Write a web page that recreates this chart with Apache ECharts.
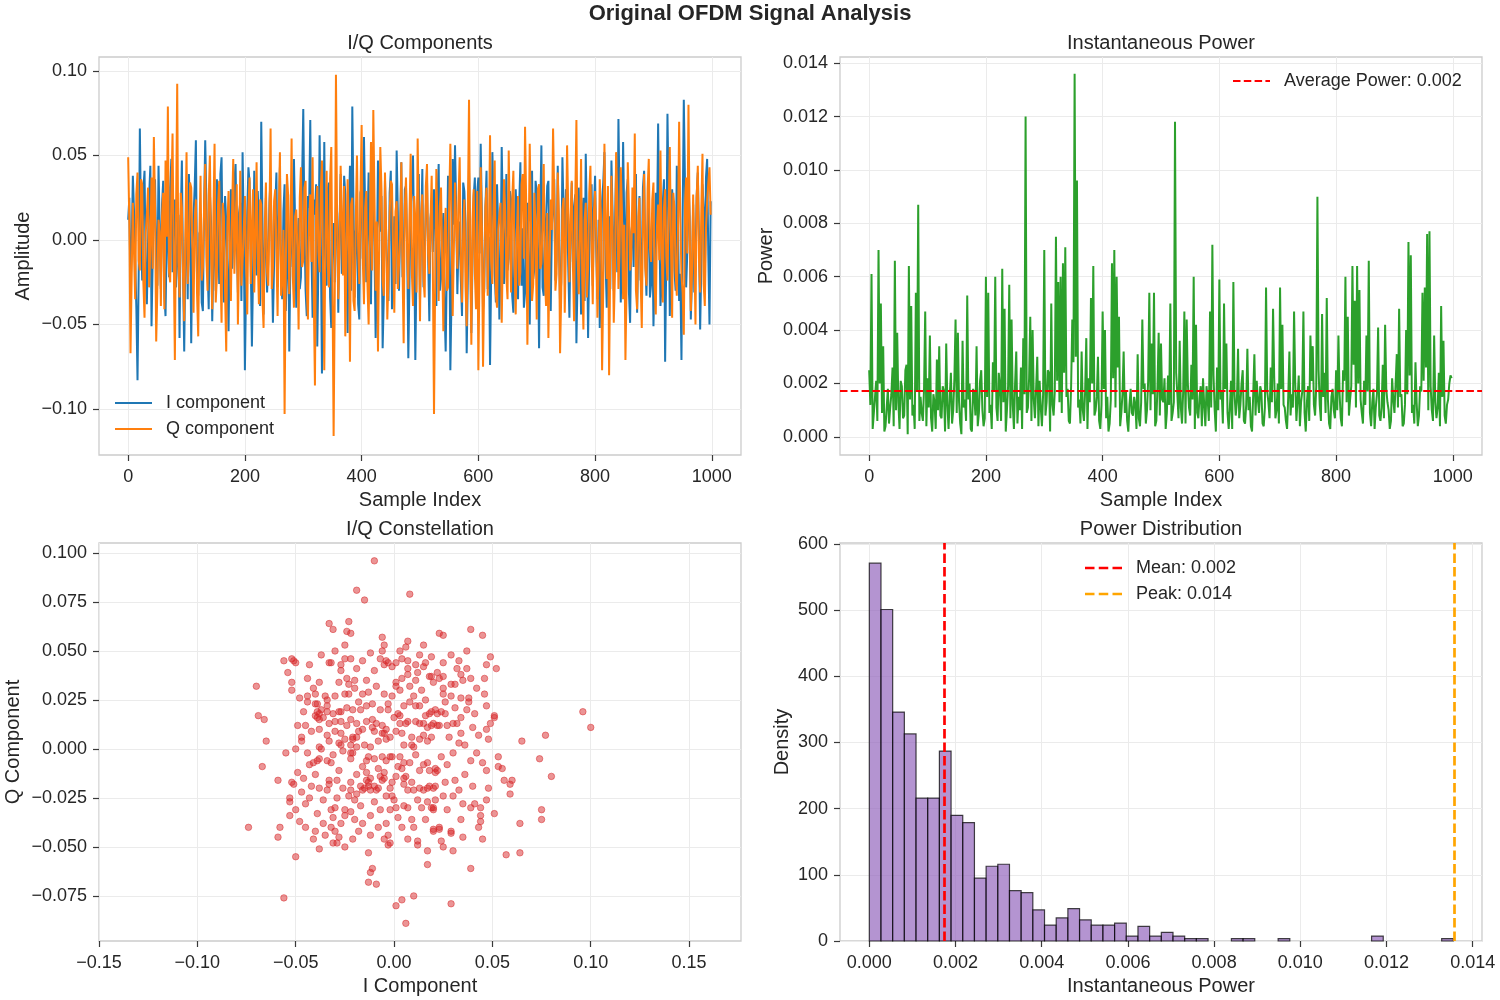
<!DOCTYPE html>
<html><head><meta charset="utf-8">
<script src="https://cdn.jsdelivr.net/npm/echarts@6/dist/echarts.min.js"></script>
<style>html,body{margin:0;padding:0;background:#fff}#c{width:1500px;height:1000px}</style>
</head><body><div id="c"></div>
<script>
// ---------------- DATA ----------------
const SAMPLE_STEP = 2; // every 2nd sample index: 0,2,...,998
const iComponent = [
0.012,0.025,-0.031,-0.004,0.038,0.017,-0.012,-0.040,-0.083,-0.020,
0.066,0.009,-0.024,0.030,0.041,-0.015,-0.038,-0.002,0.027,0.044,
-0.051,-0.011,0.018,0.036,-0.007,-0.027,0.044,0.006,-0.029,0.021,
0.035,-0.033,-0.045,0.003,0.009,-0.022,0.031,0.048,-0.019,0.013,
0.024,-0.028,-0.010,0.015,-0.058,0.011,0.047,-0.019,-0.066,-0.008,
0.021,-0.035,0.039,0.020,-0.061,-0.006,0.014,0.032,0.059,-0.024,
-0.033,0.004,0.006,-0.037,-0.042,0.018,0.059,0.023,-0.015,-0.041,
0.028,0.010,-0.048,-0.013,0.017,-0.030,0.036,0.012,-0.026,0.039,
0.049,-0.009,-0.037,0.026,0.011,-0.021,-0.054,0.005,0.030,-0.017,
-0.004,0.034,0.045,-0.001,-0.031,0.016,0.022,-0.036,0.052,0.007,
-0.077,-0.026,0.016,0.043,0.034,-0.012,-0.063,-0.018,0.041,0.003,
-0.021,0.029,0.008,-0.039,0.070,0.014,-0.044,-0.007,0.025,-0.031,
-0.013,0.022,0.037,-0.005,-0.049,-0.014,0.019,0.040,-0.028,0.009,
0.043,-0.024,-0.035,0.017,0.033,-0.042,-0.018,0.027,-0.066,-0.010,
0.029,-0.016,0.048,0.011,-0.040,-0.003,0.013,-0.029,-0.022,0.036,
0.0775,0.008,-0.030,-0.045,0.026,0.019,0.071,-0.006,-0.046,0.024,
0.015,0.033,-0.063,-0.012,0.062,0.004,-0.079,-0.021,0.058,-0.010,
-0.027,0.030,0.034,-0.034,-0.052,0.002,0.010,-0.025,0.020,0.016,
-0.043,0.007,0.039,-0.020,-0.016,0.038,0.027,-0.008,-0.055,0.015,
0.044,-0.030,0.079,0.021,-0.034,0.005,0.012,-0.038,-0.047,0.028,
0.031,-0.011,0.061,0.018,-0.025,0.009,0.040,-0.027,-0.038,0.035,
0.023,-0.004,-0.058,-0.019,0.047,0.012,0.005,0.026,-0.064,-0.033,
0.036,0.004,-0.019,-0.036,0.028,0.041,-0.041,-0.013,0.014,-0.026,
0.053,0.017,-0.030,0.008,0.046,-0.022,-0.012,0.030,0.032,-0.005,
-0.070,-0.024,0.019,0.031,0.050,-0.002,-0.071,-0.017,0.024,0.039,
-0.036,0.006,0.042,-0.028,-0.009,0.020,0.035,-0.011,-0.048,0.013,
0.021,-0.007,0.030,0.012,-0.039,0.025,0.045,-0.030,-0.023,0.003,
0.016,-0.040,-0.066,-0.015,0.038,0.022,-0.077,-0.034,0.048,0.009,
0.056,0.019,-0.032,-0.003,0.011,-0.024,-0.045,0.034,0.029,0.010,
-0.067,-0.021,0.040,0.005,-0.055,-0.012,0.026,0.037,-0.014,0.028,
0.037,-0.008,0.057,0.016,-0.041,-0.030,0.018,0.041,-0.029,0.002,
-0.074,-0.019,0.052,0.024,-0.020,-0.037,0.033,0.006,-0.047,-0.014,
0.055,0.013,-0.026,0.005,0.039,-0.018,-0.011,0.029,0.024,-0.033,
-0.043,-0.006,0.030,0.011,-0.035,0.021,0.046,-0.027,0.007,-0.040,
-0.031,0.018,0.022,-0.010,-0.050,0.008,0.041,-0.023,-0.017,0.035,
0.028,-0.004,-0.064,0.015,0.056,-0.028,-0.033,0.002,0.013,0.032,
0.035,-0.020,-0.042,0.009,0.019,0.036,-0.024,-0.012,0.044,0.001,
-0.038,-0.025,0.049,0.017,-0.008,0.030,0.027,-0.015,-0.046,0.006,
0.034,-0.013,0.020,0.027,-0.061,-0.022,0.031,0.004,-0.044,0.014,
0.025,-0.036,0.051,0.010,-0.058,-0.009,0.017,0.033,-0.027,0.019,
0.038,-0.006,-0.035,0.012,-0.052,-0.021,0.023,0.034,0.052,-0.014,
-0.040,0.003,0.014,-0.029,0.047,0.016,-0.030,0.008,0.043,-0.019,
0.0716,0.020,-0.037,-0.008,0.058,0.011,-0.021,0.028,0.036,-0.031,
-0.049,0.005,0.010,-0.016,0.032,0.039,-0.043,-0.003,0.026,-0.024,
-0.015,0.031,0.041,-0.011,-0.033,0.007,0.019,-0.034,-0.026,0.016,
-0.051,-0.018,0.028,0.004,0.069,0.013,-0.039,-0.026,0.022,0.036,
-0.072,-0.010,0.0747,0.025,-0.045,-0.004,0.030,0.015,-0.018,-0.030,
0.044,0.009,-0.036,-0.020,-0.071,0.012,0.083,0.035,-0.028,-0.007,
0.035,0.014,-0.047,-0.022,0.021,-0.031,-0.012,0.026,0.040,0.002,
-0.053,-0.015,0.033,0.019,-0.024,0.037,0.048,-0.009,-0.050,0.023
];
const qComponent = [
0.049,0.010,-0.067,-0.021,0.022,-0.008,-0.035,0.027,0.040,-0.012,
-0.018,0.036,0.033,-0.025,-0.046,0.004,0.015,0.031,-0.028,-0.003,
0.037,-0.017,0.061,0.020,-0.060,-0.030,0.012,0.005,-0.039,0.014,
0.028,-0.041,0.047,0.002,0.079,-0.019,-0.025,0.026,0.063,-0.009,
-0.071,0.016,0.0925,-0.013,-0.034,0.028,0.019,-0.022,-0.048,0.007,
0.052,-0.026,-0.011,0.034,0.031,-0.005,-0.043,0.011,0.024,-0.032,
-0.057,0.003,0.038,-0.024,-0.016,0.019,0.045,-0.011,-0.030,0.026,
0.050,-0.006,-0.041,0.013,0.057,-0.037,-0.022,0.021,0.035,-0.015,
-0.049,0.022,0.014,-0.031,-0.066,0.009,0.029,-0.004,-0.036,0.017,
0.048,-0.020,-0.020,0.033,-0.050,-0.010,0.041,-0.027,-0.013,0.006,
0.026,-0.014,-0.044,0.018,0.037,-0.026,0.009,0.030,-0.031,0.001,
0.046,-0.011,-0.038,0.024,0.021,-0.035,-0.052,0.008,0.034,-0.019,
-0.027,0.012,0.066,-0.029,-0.017,0.023,0.030,-0.008,-0.045,0.015,
0.052,-0.033,-0.023,0.006,-0.103,-0.018,0.039,0.027,-0.032,0.003,
0.060,-0.021,-0.040,0.014,0.018,-0.006,-0.053,0.025,0.043,-0.016,
-0.012,0.031,0.035,-0.028,-0.047,0.010,0.027,-0.013,0.049,-0.034,
-0.086,0.018,0.032,-0.007,-0.019,0.029,0.047,-0.020,-0.077,0.004,
0.041,-0.015,-0.028,0.036,0.055,-0.024,-0.116,-0.030,0.0978,0.012,
-0.035,-0.009,0.044,0.016,-0.021,0.032,-0.057,-0.014,0.036,0.008,
-0.072,0.021,0.025,-0.036,-0.042,0.013,0.050,-0.004,-0.026,0.027,
0.068,-0.012,-0.038,0.019,0.029,-0.027,-0.050,0.006,0.058,-0.018,
0.077,0.024,-0.030,0.011,-0.066,-0.005,0.055,0.030,-0.024,-0.033,
0.040,0.005,-0.047,-0.022,0.016,0.035,0.033,-0.010,-0.043,0.017,
0.023,-0.029,-0.015,0.002,0.046,-0.016,-0.061,0.020,0.037,-0.007,
-0.029,0.014,0.051,-0.019,-0.039,0.026,0.012,-0.031,0.060,0.009,
-0.048,0.015,0.027,-0.023,-0.034,0.032,0.045,-0.008,-0.020,0.011,
0.038,-0.016,-0.103,-0.025,0.042,0.007,-0.036,0.020,0.031,-0.011,
-0.054,0.004,0.019,-0.030,-0.028,0.023,0.057,0.013,-0.045,-0.006,
0.034,0.010,-0.017,0.025,0.049,-0.014,-0.037,0.003,0.024,-0.028,
-0.051,0.018,0.083,-0.009,-0.062,0.012,0.030,-0.020,-0.041,0.029,
-0.077,-0.018,0.043,0.008,-0.075,-0.024,0.020,0.031,-0.033,0.002,
0.062,-0.013,-0.026,0.019,0.047,-0.032,-0.040,0.006,0.015,0.022,
-0.049,-0.005,0.036,0.017,-0.022,-0.035,0.053,0.010,-0.031,0.024,
0.041,-0.015,-0.044,0.004,0.026,-0.027,-0.019,0.033,0.039,-0.011,
0.067,0.021,-0.062,-0.008,0.057,0.013,-0.036,-0.026,0.028,0.007,
-0.047,0.030,0.033,-0.017,-0.014,0.009,0.045,-0.023,-0.039,0.016,
-0.058,-0.012,0.024,0.006,0.066,0.027,-0.030,-0.020,0.040,0.014,
-0.067,-0.032,0.018,0.025,-0.043,-0.004,0.056,0.019,-0.025,0.011,
0.035,-0.015,-0.048,0.023,0.071,-0.010,-0.032,0.001,0.048,-0.024,
-0.053,0.012,0.022,-0.034,-0.016,0.028,0.044,-0.006,-0.038,0.017,
0.029,0.003,-0.046,-0.019,0.036,0.015,-0.077,-0.028,0.057,0.010,
-0.023,0.032,-0.080,-0.013,0.038,0.005,-0.049,-0.021,0.052,0.026,
-0.029,-0.007,0.043,0.018,-0.035,0.009,-0.071,-0.026,0.046,0.020,
-0.018,-0.011,0.031,0.004,0.063,-0.030,-0.041,0.014,0.025,-0.022,
-0.052,0.011,0.039,-0.016,-0.027,0.030,0.048,-0.005,-0.013,0.024,
0.034,-0.027,-0.044,0.008,0.021,-0.012,0.053,-0.003,-0.037,0.019,
0.030,-0.010,-0.024,0.016,0.055,-0.002,-0.046,0.028,0.019,-0.019,
-0.033,0.006,0.070,0.013,-0.021,-0.031,-0.056,0.021,0.037,-0.008,
0.080,0.012,-0.042,-0.020,0.027,-0.004,-0.050,0.025,0.044,-0.011,
-0.031,0.018,0.051,-0.026,-0.039,0.007,0.023,0.034,0.043,0.015
];
const instPower = [
0.0025,0.0012,0.0061,0.0003,0.0009,0.0015,0.0021,0.0006,0.0070,0.0020,
0.0050,0.0009,0.0034,0.0002,0.0004,0.0011,0.0018,0.0005,0.0011,0.0016,
0.0026,0.0004,0.0066,0.0010,0.0039,0.0013,0.0003,0.0021,0.0019,0.0007,
0.0008,0.0025,0.0027,0.0001,0.0064,0.0014,0.0049,0.0008,0.0012,0.0003,
0.0054,0.0017,0.0087,0.0006,0.0015,0.0009,0.0006,0.0018,0.0047,0.0004,
0.0022,0.0011,0.0038,0.0007,0.0002,0.0016,0.0013,0.0003,0.0029,0.0010,
0.0034,0.0008,0.0007,0.0019,0.0017,0.0002,0.0035,0.0012,0.0003,0.0015,
0.0024,0.0005,0.0010,0.0022,0.0044,0.0009,0.0039,0.0013,0.0005,0.0001,
0.0036,0.0011,0.0014,0.0006,0.0053,0.0014,0.0020,0.0003,0.0002,0.0018,
0.0016,0.0008,0.0034,0.0004,0.0009,0.0021,0.0025,0.0010,0.0004,0.0007,
0.0060,0.0015,0.0054,0.0009,0.0012,0.0003,0.0028,0.0017,0.0060,0.0011,
0.0006,0.0024,0.0019,0.0006,0.0063,0.0013,0.0048,0.0002,0.0010,0.0019,
0.0057,0.0007,0.0044,0.0012,0.0003,0.0020,0.0032,0.0005,0.0015,0.0010,
0.0026,0.0003,0.0037,0.0016,0.0120,0.0009,0.0011,0.0022,0.0045,0.0006,
0.0040,0.0014,0.0007,0.0018,0.0030,0.0004,0.0021,0.0011,0.0004,0.0016,
0.0070,0.0008,0.0013,0.0025,0.0024,0.0002,0.0050,0.0012,0.0008,0.0017,
0.0075,0.0021,0.0058,0.0013,0.0060,0.0009,0.0065,0.0024,0.0071,0.0015,
0.0018,0.0006,0.0005,0.0019,0.0044,0.0028,0.0136,0.0030,0.0096,0.0011,
0.0014,0.0005,0.0032,0.0010,0.0006,0.0017,0.0037,0.0003,0.0022,0.0013,
0.0052,0.0020,0.0064,0.0008,0.0010,0.0015,0.0030,0.0006,0.0003,0.0012,
0.0047,0.0018,0.0040,0.0007,0.0015,0.0002,0.0005,0.0014,0.0065,0.0022,
0.0070,0.0011,0.0060,0.0026,0.0045,0.0004,0.0009,0.0016,0.0032,0.0009,
0.0017,0.0006,0.0002,0.0012,0.0018,0.0009,0.0008,0.0015,0.0012,0.0003,
0.0031,0.0007,0.0004,0.0013,0.0044,0.0018,0.0020,0.0005,0.0010,0.0021,
0.0054,0.0010,0.0035,0.0016,0.0054,0.0004,0.0006,0.0019,0.0039,0.0008,
0.0035,0.0014,0.0013,0.0022,0.0003,0.0009,0.0023,0.0012,0.0050,0.0006,
0.0009,0.0013,0.0118,0.0024,0.0016,0.0007,0.0036,0.0011,0.0005,0.0017,
0.0047,0.0005,0.0044,0.0020,0.0011,0.0008,0.0027,0.0014,0.0060,0.0003,
0.0042,0.0009,0.0007,0.0015,0.0019,0.0004,0.0022,0.0012,0.0004,0.0019,
0.0014,0.0006,0.0047,0.0011,0.0072,0.0023,0.0010,0.0002,0.0026,0.0010,
0.0059,0.0014,0.0017,0.0005,0.0050,0.0018,0.0035,0.0009,0.0003,0.0011,
0.0021,0.0003,0.0058,0.0016,0.0008,0.0013,0.0033,0.0007,0.0012,0.0020,
0.0025,0.0006,0.0005,0.0012,0.0033,0.0010,0.0015,0.0004,0.0002,0.0016,
0.0031,0.0008,0.0021,0.0014,0.0009,0.0019,0.0017,0.0005,0.0004,0.0011,
0.0056,0.0017,0.0013,0.0007,0.0026,0.0013,0.0048,0.0022,0.0007,0.0010,
0.0020,0.0005,0.0056,0.0018,0.0042,0.0012,0.0011,0.0006,0.0003,0.0015,
0.0032,0.0008,0.0016,0.0011,0.0047,0.0020,0.0006,0.0014,0.0023,0.0004,
0.0013,0.0017,0.0047,0.0009,0.0002,0.0013,0.0019,0.0006,0.0038,0.0021,
0.0034,0.0012,0.0008,0.0019,0.0090,0.0025,0.0012,0.0006,0.0046,0.0015,
0.0024,0.0009,0.0052,0.0014,0.0005,0.0003,0.0015,0.0018,0.0010,0.0007,
0.0025,0.0010,0.0038,0.0016,0.0007,0.0004,0.0025,0.0021,0.0060,0.0013,
0.0045,0.0008,0.0014,0.0019,0.0064,0.0027,0.0051,0.0011,0.0064,0.0020,
0.0055,0.0014,0.0009,0.0005,0.0021,0.0012,0.0038,0.0017,0.0066,0.0009,
0.0004,0.0013,0.0018,0.0003,0.0011,0.0016,0.0041,0.0008,0.0006,0.0011,
0.0027,0.0007,0.0042,0.0018,0.0013,0.0010,0.0003,0.0006,0.0022,0.0014,
0.0009,0.0020,0.0031,0.0011,0.0048,0.0015,0.0016,0.0004,0.0005,0.0012,
0.0040,0.0016,0.0073,0.0023,0.0068,0.0009,0.0012,0.0005,0.0028,0.0013,
0.0004,0.0008,0.0019,0.0017,0.0054,0.0021,0.0056,0.0026,0.0076,0.0010,
0.0077,0.0019,0.0010,0.0006,0.0038,0.0013,0.0007,0.0011,0.0024,0.0004,
0.0049,0.0015,0.0036,0.0008,0.0005,0.0012,0.0014,0.0020,0.0023,0.0022
];
// I/Q constellation points [I, Q]
const constellation = [
[-0.010,0.096],[-0.019,0.081],[-0.015,0.076],[0.008,0.079],
[-0.033,0.064],[-0.031,0.061],[-0.023,0.065],[-0.024,0.060],[-0.022,0.059],[-0.025,0.053],
[-0.006,0.057],[-0.005,0.053],[-0.006,0.050],[0.007,0.055],[0.006,0.052],[0.013,0.048],[0.023,0.059],[0.025,0.058],
[0.039,0.061],[0.045,0.058],[0.049,0.047],[0.047,0.043],[0.052,0.041],[0.046,0.036],[0.046,0.028],
[-0.051,0.045],[-0.052,0.046],[-0.056,0.045],[-0.050,0.044],[-0.054,0.039],[-0.037,0.048],[-0.033,0.044],[-0.032,0.044],
[-0.025,0.046],[-0.022,0.046],[-0.019,0.041],[-0.027,0.043],[-0.027,0.040],
[-0.052,0.034],[-0.052,0.030],[-0.070,0.032],[-0.069,0.017],[-0.066,0.015],[-0.065,0.004],[-0.055,-0.002],[-0.067,-0.009],
[-0.059,-0.016],[-0.074,-0.040],[-0.059,-0.045],[-0.058,-0.040],[-0.050,-0.055],[-0.056,-0.076],
[-0.053,-0.034],[-0.050,-0.031],[-0.048,-0.037],[-0.045,-0.040],[-0.053,-0.025],[-0.053,-0.027],[-0.052,-0.017],[-0.051,-0.018],
[-0.049,-0.012],[-0.050,0.000],[-0.049,0.012],[-0.045,0.012],[-0.047,0.004],[-0.047,0.006],[-0.048,0.026],[-0.044,0.027],
[-0.044,0.024],[-0.040,0.028],[-0.040,0.023],[-0.038,0.018],[-0.037,0.020],[-0.039,0.016],[-0.036,0.016],[-0.035,0.027],
[-0.030,0.027],[-0.038,0.034],[-0.028,0.034],[-0.024,0.036],[-0.023,0.033],[-0.025,0.028],[-0.023,0.028],[-0.020,0.031],
[-0.014,0.035],[-0.013,0.029],[-0.016,0.028],
[-0.007,0.046],[-0.005,0.043],[-0.004,0.045],[-0.003,0.044],[-0.001,0.042],[0.001,0.044],[0.004,0.046],[0.007,0.045],
[0.011,0.043],[0.015,0.042],[0.004,0.036],[0.001,0.034],[0.001,0.032],[0.019,0.037],[0.020,0.034],[0.012,0.039],
[0.011,0.035],[0.007,0.041],[0.007,0.038],[0.022,0.039],
[0.037,0.041],[0.032,0.041],[0.039,0.036],[0.034,0.038],[0.035,0.035],[0.025,0.044],[0.016,0.044],[0.018,0.037],
[0.023,0.036],[0.025,0.037],[0.029,0.033],[0.031,0.033],[0.026,0.024],[0.034,0.026],[0.038,0.026],[0.038,0.024],
[0.025,0.031],[0.025,0.028],
[0.051,0.017],[0.051,0.016],[0.049,0.013],[0.047,0.010],[0.048,0.005],[0.040,0.011],[0.034,0.016],[0.032,0.013],
[0.034,0.008],[0.018,0.018],[0.022,0.018],[0.024,0.019],[0.026,0.018],[0.020,0.013],[0.023,0.012],[0.027,0.012],[0.030,0.013],
[0.065,0.004],[0.077,0.007],[0.096,0.019],[0.100,0.011],[0.074,-0.005],[0.080,-0.014],[0.053,-0.004],[0.053,-0.009],
[0.055,-0.010],[0.045,-0.007],[0.047,-0.011],[0.056,-0.016],[0.060,-0.016],[0.059,-0.018],[0.059,-0.023],[0.075,-0.031],
[0.075,-0.036],[0.064,-0.038],[0.057,-0.054],[0.064,-0.053],[0.051,-0.033],[0.047,-0.026],[0.044,-0.030],[0.044,-0.034],
[0.044,-0.037],[0.043,-0.040],[0.039,-0.061],[0.029,-0.079],[0.017,-0.059],[0.024,-0.047],[0.025,-0.050],[0.029,-0.042],
[0.029,-0.043],[0.020,-0.042],[0.023,-0.041],[0.034,-0.036],[0.039,-0.030],[0.041,-0.028],[0.035,-0.028],[0.030,-0.024],
[0.025,-0.024],[0.021,-0.026],[0.017,-0.027],[0.019,-0.030],[0.020,-0.031],[0.027,-0.031],
[-0.013,-0.053],[-0.011,-0.061],[-0.012,-0.063],[-0.013,-0.068],[-0.009,-0.069],[0.001,-0.080],[0.004,-0.077],[0.010,-0.075],
[0.006,-0.089],[-0.003,-0.049],[-0.002,-0.048],[-0.003,-0.044],[-0.005,-0.046],[0.007,-0.046],[0.012,-0.047],[0.012,-0.049],
[-0.008,-0.040],[0.004,-0.040],[0.009,-0.036],[-0.018,-0.042],[-0.025,-0.050],[-0.038,-0.051],[-0.031,-0.048],[-0.029,-0.048],
[-0.035,-0.044],[-0.040,-0.042],[-0.032,-0.040],[-0.030,-0.042],[-0.027,-0.038],[-0.020,-0.036],[-0.025,-0.031],[-0.025,-0.034],
[-0.022,-0.032],[-0.032,-0.031],[-0.030,-0.030],[-0.039,-0.033],[-0.029,-0.025],[-0.043,-0.025],[-0.045,-0.028],[-0.034,-0.021],
[-0.033,-0.018],[-0.038,-0.020],[-0.033,-0.016],[-0.040,-0.013],[-0.043,-0.008],[-0.041,-0.007],[-0.039,-0.006],[-0.038,-0.005],
[-0.034,-0.006],[-0.032,-0.007],[-0.028,-0.011],[-0.022,-0.017],[-0.022,-0.021],[-0.023,-0.024],[-0.019,-0.023],
[-0.017,-0.019],[-0.015,-0.020],[-0.013,-0.019],[-0.012,-0.021],[-0.010,-0.019],[-0.009,-0.021],[-0.008,-0.020],[-0.016,-0.021],
[-0.014,-0.016],[-0.012,-0.015],[-0.013,-0.017],[-0.014,-0.012],[-0.007,-0.014],[-0.005,-0.015],[-0.005,-0.012],[-0.006,-0.016],
[-0.004,-0.024],[-0.001,-0.024],[0.000,-0.026],[-0.002,-0.031],[0.001,-0.030],[0.005,-0.029],
[0.007,-0.021],[0.010,-0.021],[0.013,-0.020],[0.015,-0.021],[0.018,-0.019],[0.020,-0.020],[0.021,-0.019],[0.017,-0.020],
[0.014,-0.030],[0.020,-0.030],[0.020,-0.041],[0.023,-0.040],[0.009,-0.017],[0.005,-0.018],[0.001,-0.014],[-0.001,-0.017],
[0.004,-0.010],[0.006,-0.014],[0.005,-0.015],
[0.013,-0.011],[0.015,-0.008],[0.017,-0.007],[0.018,-0.011],[0.021,-0.010],[0.021,-0.012],[0.022,-0.011],[0.008,-0.007],
[0.005,-0.007],[0.002,-0.009],[-0.002,-0.004],[-0.004,-0.006],[-0.001,-0.004],[-0.006,-0.004],[-0.010,-0.005],[-0.014,-0.006],
[-0.013,-0.004],[-0.019,0.001],[-0.015,0.002],[-0.022,-0.002],[-0.021,-0.002],[-0.022,-0.005],[-0.026,-0.001],[-0.025,0.005],
[-0.021,0.005],[-0.022,0.002],[-0.021,0.006],[-0.028,0.003],[-0.027,0.002],
[-0.019,0.013],[-0.018,0.009],[-0.019,0.006],[-0.016,0.010],[-0.014,0.014],[-0.011,0.015],[-0.011,0.011],[-0.009,0.013],
[-0.010,0.009],[-0.006,0.012],[-0.004,0.010],[-0.005,0.008],[-0.006,0.008],[-0.004,0.005],[-0.002,0.006],[0.002,0.018],
[0.003,0.017],[0.000,0.016],[0.006,0.013],[0.007,0.014],[0.011,0.014],[0.013,0.013],[0.015,0.013],[0.017,0.011],
[0.019,0.012],[0.022,0.012],[0.009,0.006],[0.013,0.005],[0.015,0.007],[0.017,0.004],[0.019,0.006],[0.005,0.002],
[0.009,0.002],[0.010,0.001],[0.001,0.009],[0.004,0.008],[0.016,0.017],[0.019,0.019],[0.021,0.020],[0.010,0.027],
[0.011,0.022],[0.005,0.022],
[-0.017,0.020],[-0.011,0.023],[-0.007,0.020],[-0.014,0.022],[-0.003,0.023],[-0.003,0.020],[-0.021,0.020],[-0.024,0.021],
[-0.027,0.019],[-0.031,0.018],[-0.030,0.014],[-0.028,0.019],[-0.027,0.014],[-0.027,0.008],[-0.034,0.019],[-0.033,0.013],
[-0.034,0.007],[-0.038,0.010],[-0.038,0.001],[-0.037,0.000],[-0.040,0.017],[-0.038,0.015],[-0.034,0.025],[-0.034,0.022],
[-0.039,0.019],[-0.039,0.023],
[-0.044,0.036],[-0.041,0.031],[-0.046,0.019],[-0.042,0.009],[-0.044,-0.002],[-0.046,-0.015],[-0.042,-0.019],[-0.047,-0.022],
[-0.036,-0.026],[-0.031,-0.035],[-0.036,-0.038],[-0.041,-0.046],[-0.028,-0.045],[-0.021,-0.046],[-0.016,-0.038],[-0.012,-0.034],
[-0.007,-0.031],[-0.010,-0.027],[-0.017,-0.029],[-0.020,-0.026],[-0.026,-0.020],[-0.029,-0.016],[-0.031,-0.003],[-0.033,0.004],
[-0.030,0.009],[-0.024,0.012],[-0.022,0.015],[-0.018,0.024],[-0.020,0.035],[-0.010,0.040],[-0.009,0.032],[-0.005,0.028],
[-0.001,0.027],[0.003,0.030],[0.008,0.032],[0.014,0.030],[0.016,0.025],[0.013,0.022],[0.008,0.024],[0.003,0.013],
[-0.008,0.004],[-0.012,0.001],[-0.016,-0.009],[-0.019,-0.013],[-0.008,-0.010],[-0.002,-0.020],[0.003,-0.004],[0.011,-0.003],
[0.024,-0.004],[0.027,-0.008],[0.030,-0.002],[0.033,0.003],[0.028,0.006],[0.036,0.002],[0.039,-0.006],[0.036,-0.013],
[0.031,-0.016],[0.026,-0.017],[0.033,-0.021],[0.040,-0.019],[0.042,-0.002],[0.043,0.007],[0.041,0.018],[0.037,0.020],
[0.031,0.021],[0.029,0.027],[0.042,0.031],[0.033,0.045],[0.029,0.048],[0.019,0.047],[0.015,0.053],[0.003,0.050],
[-0.012,0.049],[-0.016,0.045],[-0.030,0.050],[-0.043,0.043],[0.010,-0.040],[0.016,-0.036],[0.007,-0.030],[0.012,-0.026],
[0.002,-0.035],[-0.004,-0.038],[-0.012,-0.044],[0.017,-0.052],[0.030,-0.052],[0.035,-0.045],[0.045,-0.046],[0.048,-0.020],
[0.047,0.022],[0.037,0.050]
];
// Histogram of instantaneous power (density), 50 bins
const histStart = 0.0;
const histBinWidth = 0.000271;
const histDensity = [
571,501,346,313,216,216,287,190,179,95,
113,116,76,73,47,24,35,49,32,24,
24,27,7.4,22,7.4,13,7.4,3.7,3.7,0,
0,3.7,3.7,0,0,3.7,0,0,0,0,
0,0,0,7.4,0,0,0,0,0,3.7
];
const avgPower = 0.00174;
const peakPower = 0.01357;
// tick values
const sampleTicks = [0,200,400,600,800,1000];
const ampTicks = [-0.10,-0.05,0.00,0.05,0.10];
const powerTicks = [0,0.002,0.004,0.006,0.008,0.010,0.012,0.014];
const constITicks = [-0.15,-0.10,-0.05,0.00,0.05,0.10,0.15];
const constQTicks = [-0.075,-0.050,-0.025,0.000,0.025,0.050,0.075,0.100];
const densityTicks = [0,100,200,300,400,500,600];

// ---------------- CHART ----------------
const FONT = '"Liberation Sans", Arial, Helvetica, sans-serif';
const TXT = '#262626';
const fmt = d => v => {
  const s = Math.abs(v).toFixed(d);
  return (v < 0 && Number(s) !== 0 ? '\u2212' : '') + s;
};
function axis(o) {
  return {
    type: 'value', gridIndex: o.grid, min: o.min, max: o.max,
    name: o.name, nameLocation: 'middle', nameGap: o.nameGap,
    nameTextStyle: {fontFamily: FONT, fontSize: 20, color: TXT},
    axisLine: {show: false, onZero: false},
    axisTick: {show: true, customValues: o.ticks, length: 6, lineStyle: {color: '#3a3a3a', width: 1.2}},
    axisLabel: {customValues: o.ticks, margin: o.margin, fontFamily: FONT, fontSize: 18, color: TXT, formatter: fmt(o.dec)},
    splitLine: {show: true, customValues: o.ticks, lineStyle: {color: '#ebebeb', width: 1}}
  };
}
const grids = [
  {left: 99, top: 57, width: 642, height: 398},
  {left: 840, top: 57, width: 642, height: 398},
  {left: 99, top: 543, width: 642, height: 398},
  {left: 840, top: 543, width: 642, height: 398}
].map(g => Object.assign(g, {show: true, borderColor: '#cccccc', borderWidth: 1.3, backgroundColor: '#ffffff'}));

const idx = iComponent.map((_, k) => k * SAMPLE_STEP);
const subTitle = (text, x, y) => ({text, left: x, top: y, textAlign: 'center', padding: 0,
  textStyle: {fontFamily: FONT, fontSize: 20, fontWeight: 'normal', color: TXT}});
const legendText = {fontFamily: FONT, fontSize: 18, color: TXT,
  rich: {t: {fontFamily: FONT, fontSize: 18, color: TXT, lineHeight: 20, padding: [0, 0, 0, 9]}}};
const SOLID = 'path://M0,0H37V2H0Z';
const DASH_THIN = 'path://M0,0H7.5V2H0Z M10.8,0H18.3V2H10.8Z M21.6,0H29.1V2H21.6Z M32.4,0H37V2H32.4Z';
const DASH_THICK = 'path://M0,0H9.5V2.7H0Z M13.75,0H23.25V2.7H13.75Z M27.5,0H37V2.7H27.5Z';
const legendBase = {orient: 'vertical', itemWidth: 37, itemGap: 8, padding: 0,
  textStyle: legendText, formatter: n => '{t|' + n + '}', selectedMode: false};

const option = {
  animation: false,
  backgroundColor: '#ffffff',
  title: [
    {text: 'Original OFDM Signal Analysis', left: 'center', top: 3, padding: 0,
     textStyle: {fontFamily: FONT, fontSize: 22, fontWeight: 'bold', color: TXT}},
    subTitle('I/Q Components', 420, 33),
    subTitle('Instantaneous Power', 1161, 33),
    subTitle('I/Q Constellation', 420, 519),
    subTitle('Power Distribution', 1161, 519)
  ],
  grid: grids,
  legend: [
    Object.assign({}, legendBase, {left: 115, top: 394, itemHeight: 2,
      data: [{name: 'I component', icon: SOLID}, {name: 'Q component', icon: SOLID}]}),
    Object.assign({}, legendBase, {left: 1233, top: 72, itemHeight: 2,
      data: [{name: 'Average Power: 0.002', icon: DASH_THIN}]}),
    Object.assign({}, legendBase, {left: 1085, top: 559, itemHeight: 2.7,
      data: [{name: 'Mean: 0.002', icon: DASH_THICK}, {name: 'Peak: 0.014', icon: DASH_THICK}]})
  ],
  xAxis: [
    axis({grid: 0, min: -50, max: 1050, ticks: sampleTicks, dec: 0, name: 'Sample Index', nameGap: 35, margin: 13}),
    axis({grid: 1, min: -50, max: 1050, ticks: sampleTicks, dec: 0, name: 'Sample Index', nameGap: 35, margin: 13}),
    axis({grid: 2, min: -0.15, max: 0.1764, ticks: constITicks, dec: 2, name: 'I Component', nameGap: 35, margin: 13}),
    axis({grid: 3, min: -0.00068, max: 0.014215, ticks: powerTicks, dec: 3, name: 'Instantaneous Power', nameGap: 35, margin: 13})
  ],
  yAxis: [
    axis({grid: 0, min: -0.1272, max: 0.1083, ticks: ampTicks, dec: 2, name: 'Amplitude', nameGap: 66, margin: 12}),
    axis({grid: 1, min: -0.000677, max: 0.01423, ticks: powerTicks, dec: 3, name: 'Power', nameGap: 64, margin: 12}),
    axis({grid: 2, min: -0.098, max: 0.1051, ticks: constQTicks, dec: 3, name: 'Q Component', nameGap: 76, margin: 12}),
    axis({grid: 3, min: 0, max: 601.5, ticks: densityTicks, dec: 0, name: 'Density', nameGap: 48, margin: 12})
  ],
  series: [
    {name: 'I component', type: 'line', xAxisIndex: 0, yAxisIndex: 0, symbol: 'none',
     data: idx.map((x, k) => [x, iComponent[k]]), lineStyle: {color: '#1f77b4', width: 2}, itemStyle: {color: '#1f77b4'}, z: 2},
    {name: 'Q component', type: 'line', xAxisIndex: 0, yAxisIndex: 0, symbol: 'none',
     data: idx.map((x, k) => [x, qComponent[k]]), lineStyle: {color: '#ff7f0e', width: 2}, itemStyle: {color: '#ff7f0e'}, z: 3},
    {name: 'Power', type: 'line', xAxisIndex: 1, yAxisIndex: 1, symbol: 'none',
     data: idx.map((x, k) => [x, instPower[k]]), lineStyle: {color: '#2ca02c', width: 2}, z: 2},
    {name: 'Average Power: 0.002', type: 'line', xAxisIndex: 1, yAxisIndex: 1, symbol: 'none', data: [],
     lineStyle: {color: '#ff0000', width: 2, type: [7.5, 3.3]}, itemStyle: {color: '#ff0000'}, z: 4,
     markLine: {silent: true, symbol: 'none', precision: 10, label: {show: false}, animation: false,
       lineStyle: {color: '#ff0000', width: 2, type: [7.5, 3.3]}, data: [{yAxis: avgPower}]}},
    {name: 'Constellation', type: 'scatter', xAxisIndex: 2, yAxisIndex: 2, symbolSize: 6.5,
     data: constellation, itemStyle: {color: 'rgba(214,39,40,0.62)', borderColor: 'rgba(214,39,40,0.62)', borderWidth: 1}},
    {name: 'Histogram', type: 'custom', xAxisIndex: 3, yAxisIndex: 3,
     data: histDensity.map((d, k) => [histStart + k * histBinWidth, histStart + (k + 1) * histBinWidth, d]),
     encode: {x: [0, 1], y: 2},
     renderItem: (params, api) => {
       const h = api.value(2);
       if (!(h > 0)) return null;
       const p0 = api.coord([api.value(0), h]);
       const p1 = api.coord([api.value(1), 0]);
       return {type: 'rect', shape: {x: p0[0], y: p0[1], width: p1[0] - p0[0], height: p1[1] - p0[1]},
         style: {fill: 'rgba(148,103,189,0.7)', stroke: 'rgba(0,0,0,0.72)', lineWidth: 1.2}};
     }, z: 2},
    {name: 'Mean: 0.002', type: 'line', xAxisIndex: 3, yAxisIndex: 3, symbol: 'none', data: [],
     lineStyle: {color: '#ff0000', width: 2.7, type: [9.5, 4]}, itemStyle: {color: '#ff0000'}, z: 4,
     markLine: {silent: true, symbol: 'none', precision: 10, label: {show: false}, animation: false,
       lineStyle: {color: '#ff0000', width: 2.7, type: [9.5, 4]}, data: [{xAxis: avgPower}]}},
    {name: 'Peak: 0.014', type: 'line', xAxisIndex: 3, yAxisIndex: 3, symbol: 'none', data: [],
     lineStyle: {color: '#ffa500', width: 2.7, type: [9.5, 4]}, itemStyle: {color: '#ffa500'}, z: 4,
     markLine: {silent: true, symbol: 'none', precision: 10, label: {show: false}, animation: false,
       lineStyle: {color: '#ffa500', width: 2.7, type: [9.5, 4]}, data: [{xAxis: peakPower}]}}
  ]
};
const chart = echarts.init(document.getElementById('c'), null, {renderer: 'canvas'});
chart.setOption(option);
</script>
</body></html>
